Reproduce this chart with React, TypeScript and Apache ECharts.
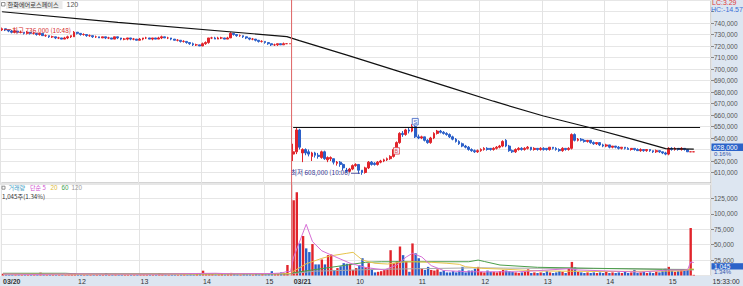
import React, { useEffect, useRef } from "react";
import * as echarts from "echarts";

const UP = "#e1242b";
const DOWN = "#2b5fc8";
const PANEL_BG = "#dde6f1";
const NARROW = "'Liberation Sans Narrow', 'Liberation Sans', Arial, sans-serif";
const SANS = "'Liberation Sans', Arial, sans-serif";
const MIXED = "'Liberation Sans Narrow', 'Noto Sans CJK KR', sans-serif";
const KR = "'Noto Sans CJK KR', 'Noto Sans', sans-serif";

// sessions (3-minute bars)
const sessionDates = ["03/20", "03/21"];
const sessionStarts = ["10:48", "09:00"];
const padSlots = 5;

// [open, close, low, high] in thousand won
const day1Ohlc = [
  [734,735,733,736],[735,734,733,735],[734,733,732,734],[733,732,731,734],[732,733,731,734],[733,732,731,733],[732,732,731,733],[732,731,730,732],[731,732,730,733],[732,731,730,732],
  [731,731,730,732],[731,730,729,731],[730,731,729,731],[731,729,729,731],[729,729,728,730],[729,728,727,729],[728,728,727,729],[728,727,726,728],[727,727,726,728],[727,726,726,727],
  [726,727,726,728],[727,728,726,729],[728,729,727,729],[728,732,728,733],[732,731,730,732],[731,730,729,731],[730,730,729,731],[730,729,728,730],[729,729,728,730],[729,728,727,729],
  [728,728,727,729],[728,727,727,728],[727,728,727,728],[728,727,726,728],[727,727,726,728],[727,726,726,727],[726,728,726,728],[728,727,726,728],[727,726,725,727],[726,726,725,727],
  [726,727,725,727],[727,726,725,727],[726,726,725,727],[726,725,725,726],[725,726,725,727],[726,727,725,727],[727,727,726,728],[727,726,726,727],[726,727,725,727],[727,726,726,727],
  [726,727,726,728],[727,728,726,729],[728,727,727,728],[727,727,726,728],[727,726,725,727],[726,725,725,726],[725,725,724,726],[725,724,723,725],[724,724,723,725],[724,723,722,724],
  [723,722,721,723],[722,721,720,723],[721,721,720,722],[721,720,720,721],[720,722,720,723],[722,723,721,724],[723,727,722,727],[727,727,726,728],[727,726,726,728],[726,727,726,728],
  [727,727,726,728],[727,726,726,727],[726,727,726,728],[727,731,727,732],[731,730,729,731],[730,729,728,730],[729,729,728,730],[729,728,727,729],[728,727,726,728],[727,726,725,727],
  [726,726,725,727],[726,725,724,726],[725,724,723,725],[724,724,723,725],[724,723,722,724],[723,722,721,723],[722,721,720,722],[721,721,720,722],[721,722,720,722],[722,721,721,722],
  [721,722,721,723],[722,722,722,722],[722,722,722,722],
];

const day2Ohlc = [
  [626,628,620,635],[628,647,626,649],[647,632,630,648],[627,630,619,631],[630,627,625,631],[628,626,624,630],[624,627,620,628],[627,625,623,628],[625,624,622,627],[623,628,622,629],
  [628,622,621,629],[621,623,619,624],[622,623,620,624],[622,619,617,622],[618,619,616,620],[619,617,615,620],[617,614,612,618],[612,611,610,614],[611,613,610,614],[613,616,612,617],
  [616,617,615,618],[617,612,609,617],[612,610,608,612],[610,614,609,615],[614,619,613,620],[619,617,616,620],[618,617,616,619],[617,619,616,620],[619,620,618,621],[620,621,619,622],
  [621,622,620,623],[622,624,621,625],[624,630,623,631],[630,636,629,637],[636,644,635,645],[644,643,641,646],[643,647,642,648],[647,646,644,649],[646,650,645,652],[650,641,640,651],
  [641,640,639,643],[640,641,639,642],[641,638,637,641],[638,636,635,639],[636,640,635,641],[640,644,639,645],[644,646,643,647],[646,645,644,647],[645,644,643,646],[644,643,642,645],
  [643,641,640,644],[641,639,638,642],[639,637,636,640],[637,635,634,638],[635,633,632,636],[633,632,631,634],[632,630,629,633],[630,629,628,631],[629,628,627,630],[628,629,627,630],
  [629,630,628,631],[630,631,629,632],[631,630,629,632],[631,630,629,631],[630,631,629,632],[631,632,630,633],[632,633,631,634],[633,637,632,638],[638,633,632,639],[633,629,628,634],
  [629,628,627,630],[628,630,627,631],[630,631,629,632],[631,630,629,632],[630,631,629,632],[631,632,630,633],[632,630,629,632],[630,631,629,632],[631,630,629,631],[630,631,629,632],
  [631,630,629,632],[631,630,629,631],[630,632,629,632],[632,631,630,632],[631,630,629,632],[630,629,628,631],[629,631,628,632],[631,630,629,631],[630,631,629,632],[631,643,630,644],
  [643,638,637,644],[638,639,637,640],[639,638,637,640],[638,637,636,639],[637,638,636,638],[638,636,635,638],[636,635,634,637],[635,636,634,636],[636,634,633,636],[634,633,632,635],
  [633,634,632,635],[634,632,631,634],[632,633,631,633],[633,632,631,633],[632,631,630,633],[631,632,630,632],[632,631,630,632],[631,630,630,632],[630,631,629,631],[631,630,629,631],
  [630,629,629,631],[629,630,628,631],[630,629,628,630],[629,630,628,630],[630,629,628,630],[629,628,627,629],[628,629,627,630],[629,628,627,629],[628,627,626,628],[627,626,625,628],
  [626,631,625,632],[631,630,629,632],[630,631,629,632],[631,630,629,631],[630,631,629,632],[631,630,629,631],[630,628,628,630],[628,628,628,628],[628,628,628,628],
];

// volume, thousand shares
const day1Volume = [
  3.0, 2.2, 1.8, 1.5, 2.0, 1.6, 1.4, 2.1, 1.8, 1.5,
  1.7, 2.4, 4.6, 2.0, 1.6, 1.5, 1.8, 1.3, 1.6, 1.4,
  1.5, 2.0, 2.6, 3.8, 2.4, 1.8, 1.6, 1.5, 1.4, 1.6,
  1.8, 1.5, 2.2, 4.0, 1.8, 1.5, 2.5, 1.6, 1.4, 1.3,
  1.7, 1.5, 1.4, 1.6, 1.8, 1.9, 2.0, 1.6, 1.5, 1.7,
  3.5, 2.6, 1.8, 1.5, 1.6, 1.7, 1.5, 1.8, 2.0, 1.6,
  2.2, 1.8, 2.4, 2.6, 7.8, 3.0, 3.5, 2.4, 1.8, 2.0,
  3.0, 1.8, 2.2, 4.2, 2.5, 2.0, 1.8, 2.6, 2.2, 2.0,
  1.8, 2.4, 2.0, 2.8, 2.2, 3.0, 7.0, 2.6, 3.0, 5.0,
  3.5, 17.0, 0.3,
];
const day2Volume = [
  122, 135, 52, 64, 44, 38, 51, 18, 18, 26,
  18, 33, 34, 9, 12, 15, 20, 19, 19, 9,
  12, 17, 28, 13, 20, 11, 5, 6, 7, 9,
  10, 41, 20, 23, 47, 33, 23, 6, 52, 36,
  28, 11, 9, 14, 9, 8, 10, 6, 8, 5,
  5, 7, 5, 8, 14, 5, 8, 8, 11, 14,
  6, 5, 8, 6, 6, 5, 7, 9, 8, 7,
  6, 5, 4, 5, 6, 10, 4, 5, 4, 5,
  4, 7, 5, 4, 5, 7, 6, 4, 12, 22,
  13, 6, 5, 4, 5, 4, 5, 4, 5, 4,
  6, 4, 5, 4, 5, 4, 7, 4, 5, 9,
  4, 5, 6, 4, 5, 4, 6, 5, 7, 11,
  14, 8, 6, 7, 9, 8, 10, 77, 1.045,
];

// moving-average vertices: [bar index, value]
const priceMa120 = [[0, 749.8], [37, 740.5], [91, 728.2], [95, 724.7], [111, 711.4], [127, 697.7], [143, 684.0], [157, 672.0], [173, 659.1], [187, 649.6], [201, 639.3], [212, 630.7], [221, 630.4]];
const volMa5 = [[0, 2.4], [10, 1.8], [23, 2.6], [33, 2.3], [50, 2.2], [64, 3.4], [68, 3.6], [73, 2.8], [86, 3.2], [89, 4], [91, 6.6], [92, 6.4], [93, 30], [97, 83], [99, 55], [102, 40], [106, 31], [111, 20], [116, 13], [122, 9], [126, 17], [129, 30], [131, 36], [134, 30], [137, 16], [141, 8], [149, 6], [165, 6], [181, 11], [184, 9], [204, 5.5], [213, 9], [219, 9], [220, 22], [221, 21]];
const volMa20 = [[0, 2.2], [30, 2.0], [64, 2.4], [75, 2.6], [90, 2.8], [92, 3.4], [93, 7], [97, 19], [102, 27.8], [105, 32], [110, 36], [112, 37.6], [115, 25], [119, 19.8], [123, 18.6], [128, 21.9], [131, 22.3], [137, 21.4], [142, 19.8], [146, 18.1], [148, 14.2], [153, 11.7], [159, 10.5], [172, 7.3], [191, 6.5], [217, 7.3], [220, 10.5], [221, 10.4]];
const volMa60 = [[0, 3.6], [20, 3.6], [24, 2.6], [92, 2.8], [93, 4.5], [99, 9], [110, 17], [116, 21.4], [121, 22.3], [149, 22.3], [152, 25], [154, 22.7], [159, 17], [171, 13.3], [189, 11.7], [211, 10], [221, 9.8]];
const volMa120 = [[0, 2.4], [92, 2.5], [93, 3.5], [100, 7], [120, 10], [152, 12.5], [160, 12], [200, 11], [212, 10.5], [214, 8.5], [221, 9]];

const priceAxis = { min: 600000, max: 760000, step: 10000 };
const priceLabelsHidden = [750000, 630000]; // covered by the HC text and the current-price box
const volumeAxis = { min: 0, max: 150000, step: 25000 };
const resistance = 649000;
const signals = [
  { label: "S", at: 132, price: 654200, color: "#3a5fc0" },
  { label: "B", at: 126, price: 628800, color: "#e0484e" },
];

function sessionTimes(start: string): string[] {
  const [h, m] = start.split(":").map(Number);
  const out: string[] = [];
  const pad = (n: number) => String(n).padStart(2, "0");
  for (let t = h * 60 + m; t <= 15 * 60 + 18; t += 3) out.push(`${pad(Math.floor(t / 60))}:${pad(t % 60)}`);
  out.push("15:30", "15:33");
  return out;
}

const cats: string[] = [];
sessionDates.forEach((d, s) => sessionTimes(sessionStarts[s]).forEach((t) => cats.push(`${d} ${t}`)));
for (let i = 0; i < padSlots; i++) cats.push(`pad${i}`);
const day2Start = day1Ohlc.length;

const ohlc = [...day1Ohlc, ...day2Ohlc].map((r) => r.map((v) => v * 1000));
const volumes = [...day1Volume, ...day2Volume].map((v) => Math.round(v * 1000));
const isUp = ohlc.map((r, i) => r[1] > r[0] || (r[1] === r[0] && (i === 0 || r[1] >= ohlc[i - 1][1])));

const fmt = (v: number) => Math.round(v).toLocaleString("en-US");

const showHour = (i: number) => {
  const v = cats[i];
  if (!v || v.startsWith("pad")) return false;
  const t = v.split(" ")[1];
  if (i === 0 || i === day2Start) return true;
  if (!t.endsWith(":00")) return false;
  return i < day2Start ? i >= 8 : true;
};

const scale = (pts: number[][], k: number) => pts.map(([x, y]) => [x, y * k]);

export default function App() {
  const ref = useRef<HTMLDivElement>(null);
  useEffect(() => {
    document.body.style.margin = "0";
    const chart = echarts.init(ref.current!, null, { renderer: "svg" });
    const gridLine = { show: true, interval: (i: number) => showHour(i), lineStyle: { color: "#e3e3e3", width: 1 } };
    const option: any = {
      animation: false,
      textStyle: { fontFamily: SANS },
      grid: [
        { left: 0.5, right: 32, top: -3, height: 187, show: true, borderColor: "#a8a8a8", borderWidth: 1 },
        { left: 0.5, right: 32, top: 183, height: 92.5, show: true, borderColor: "#a8a8a8", borderWidth: 1 },
      ],
      xAxis: [
        { type: "category", gridIndex: 0, data: cats, boundaryGap: true, axisLine: { show: false }, axisTick: { show: false }, axisLabel: { show: false }, splitLine: gridLine },
        {
          type: "category", gridIndex: 1, data: cats, boundaryGap: true, axisLine: { show: false }, axisTick: { show: false }, splitLine: gridLine,
          axisLabel: {
            show: true, interval: (i: number) => showHour(i), align: "left", margin: 2, fontSize: 7, color: "#333", fontFamily: SANS,
            formatter: (v: string, i: number) => {
              const [d, t] = v.split(" ");
              if (i === 0 || i === day2Start) return `{d|${d}}`;
              return String(parseInt(t, 10));
            },
            rich: { d: { fontSize: 7, fontWeight: "bold", color: "#333", fontFamily: SANS } },
          },
        },
      ],
      yAxis: [
        {
          type: "value", gridIndex: 0, position: "right", min: priceAxis.min, max: priceAxis.max, interval: priceAxis.step,
          axisLine: { show: false }, axisTick: { show: true, length: 3, lineStyle: { color: "#888" } },
          axisLabel: {
            showMinLabel: false, showMaxLabel: false, fontSize: 6.5, fontFamily: NARROW, color: "#555", margin: 3,
            formatter: (v: number) => (priceLabelsHidden.includes(v) ? "" : fmt(v)),
          },
          splitLine: { lineStyle: { color: "#e6e6e6", width: 1 } },
        },
        {
          type: "value", gridIndex: 1, position: "right", min: volumeAxis.min, max: volumeAxis.max, interval: volumeAxis.step,
          axisLine: { show: false }, axisTick: { show: true, length: 3, lineStyle: { color: "#888" } },
          axisLabel: { showMinLabel: false, showMaxLabel: false, fontSize: 6.5, fontFamily: NARROW, color: "#555", margin: 3, formatter: fmt },
          splitLine: { lineStyle: { color: "#e6e6e6", width: 1 } },
        },
      ],
      series: [
        {
          type: "candlestick", xAxisIndex: 0, yAxisIndex: 0, data: ohlc, barWidth: 2.3, silent: true,
          itemStyle: { color: UP, color0: DOWN, borderColor: UP, borderColor0: DOWN, borderWidth: 1 },
          markLine: {
            silent: true, symbol: ["none", "none"], label: { show: false },
            lineStyle: { color: "#111", width: 1.2, type: "solid" },
            data: [[{ coord: [day2Start, resistance] }, { coord: [223, resistance] }]],
          },
          markPoint: {
            silent: true, symbol: "rect", symbolSize: [6, 6.5],
            data: signals.map((s) => ({
              coord: [s.at, s.price],
              itemStyle: { color: "#f4f6ff", borderColor: s.color, borderWidth: 0.8 },
              label: { show: true, formatter: s.label, color: s.color, fontSize: 5.5, position: "inside", fontFamily: SANS },
            })),
          },
        },
        {
          type: "line", xAxisIndex: 0, yAxisIndex: 0, data: scale(priceMa120, 1000), showSymbol: false, symbol: "none",
          lineStyle: { color: "#111", width: 1.2 }, silent: true,
        },
        {
          type: "bar", xAxisIndex: 1, yAxisIndex: 1, barWidth: 2.4, silent: true,
          data: volumes.map((v, i) => ({ value: v, itemStyle: { color: isUp[i] ? UP : DOWN } })),
        },
        { type: "line", xAxisIndex: 1, yAxisIndex: 1, data: scale(volMa120, 1000), symbol: "none", lineStyle: { color: "#a9a9a9", width: 1 }, silent: true },
        { type: "line", xAxisIndex: 1, yAxisIndex: 1, data: scale(volMa60, 1000), symbol: "none", lineStyle: { color: "#4a9e4a", width: 1 }, silent: true },
        { type: "line", xAxisIndex: 1, yAxisIndex: 1, data: scale(volMa20, 1000), symbol: "none", lineStyle: { color: "#e6c34a", width: 1 }, silent: true },
        { type: "line", xAxisIndex: 1, yAxisIndex: 1, data: scale(volMa5, 1000), symbol: "none", lineStyle: { color: "#d66fd6", width: 1 }, silent: true },
      ],
    };
    chart.setOption(option);

    const px = (k: number, v: number) => chart.convertToPixel({ gridIndex: 0 }, [k, v]) as number[];
    const sepX = (px(day2Start - 1, 700000)[0] + px(day2Start, 700000)[0]) / 2;
    const hi = px(0, 736000);
    const lo = px(day2Start + 22, 608000);
    const txt = (x: number, y: number, text: string, fill: string, size: number, family: string, align = "left", weight = "normal") => ({
      type: "text", x, y, silent: true, z: 50,
      style: { text, fill, fontSize: size, fontFamily: family, align, verticalAlign: "middle", fontWeight: weight, lineHeight: size },
    });
    const graphic: any[] = [
      { type: "line", silent: true, z: 40, shape: { x1: sepX, y1: 0, x2: sepX, y2: 275.5 }, style: { stroke: "#e06464", lineWidth: 1 } },
      // title
      { type: "rect", silent: true, z: 50, shape: { x: 1.5, y: 2.5, width: 3.5, height: 3.5 }, style: { fill: "#fff", stroke: "#777", lineWidth: 0.8 } },
      { type: "rect", silent: true, z: 49, shape: { x: 6, y: 0, width: 56.5, height: 9 }, style: { fill: "#ebebeb" } },
      txt(7.5, 4.8, "한화에어로스페이스", "#333", 6.2, KR),
      txt(66.5, 4.8, "120", "#555", 7, SANS),
      // high / low
      { type: "line", silent: true, z: 50, shape: { x1: hi[0] + 2, y1: hi[1] + 2, x2: hi[0] + 9, y2: hi[1] + 2 }, style: { stroke: "#d42a2a", lineWidth: 0.8 } },
      txt(hi[0] + 10, hi[1] + 2, "최고 736,000 (10:48)", "#d42a2a", 6.5, MIXED),
      txt(lo[0] - 12, lo[1] - 2.5, "최저 608,000 (10:06)", "#33338f", 6.5, MIXED, "right"),
      { type: "line", silent: true, z: 50, shape: { x1: lo[0] - 11, y1: lo[1] - 1.5, x2: lo[0] - 2, y2: lo[1] - 1.5 }, style: { stroke: "#33338f", lineWidth: 0.8 } },
      // right-top
      txt(712, 2.5, "LC:3.29", "#e03a3a", 7, SANS),
      txt(711, 9, "HC:-14.57", "#3b6fd6", 7, SANS),
      // current price box
      { type: "rect", silent: true, z: 50, shape: { x: 711.5, y: 143.5, width: 31.5, height: 7.5 }, style: { fill: "#2b63c9" } },
      txt(713, 147.3, "628,000", "#fff", 6.8, NARROW),
      txt(714, 154.3, "0.16%", "#3355aa", 6, NARROW),
      // volume legend
      { type: "rect", silent: true, z: 50, shape: { x: 2, y: 186.2, width: 3, height: 3 }, style: { fill: "#fff", stroke: "#777", lineWidth: 0.8 } },
      txt(8.5, 187.8, "거래량", "#3c9cc4", 6, KR),
      txt(30, 187.8, "단순 5", "#d04fd0", 6, MIXED),
      txt(50.5, 187.8, "20", "#e0bb3a", 6.3, SANS),
      txt(61.5, 187.8, "60", "#3f9f4f", 6.3, SANS),
      txt(71.5, 187.8, "120", "#9a9a9a", 6.3, SANS),
      txt(2, 196.2, "1,045주(1.34%)", "#333", 6.2, MIXED),
      // volume box
      { type: "rect", silent: true, z: 50, shape: { x: 711.5, y: 263.2, width: 31.5, height: 6.3 }, style: { fill: "#2b63c9" } },
      txt(714, 266.4, "1,045", "#fff", 6.5, NARROW),
      txt(714, 272.4, "1.34%", "#3355aa", 6, NARROW),
      // time
      txt(712.5, 281, "15:33:00", "#333", 7, SANS),
    ];
    chart.setOption({ graphic });
    return () => chart.dispose();
  }, []);
  return (
    <div style={{ position: "relative", width: 743, height: 286, background: "#fff", overflow: "hidden" }}>
      <div style={{ position: "absolute", left: 711, top: 0, width: 32, height: 286, background: PANEL_BG }} />
      <div style={{ position: "absolute", left: 0, top: 276, width: 743, height: 10, background: PANEL_BG }} />
      <div ref={ref} style={{ position: "absolute", left: 0, top: 0, width: 743, height: 286 }} />
    </div>
  );
}
